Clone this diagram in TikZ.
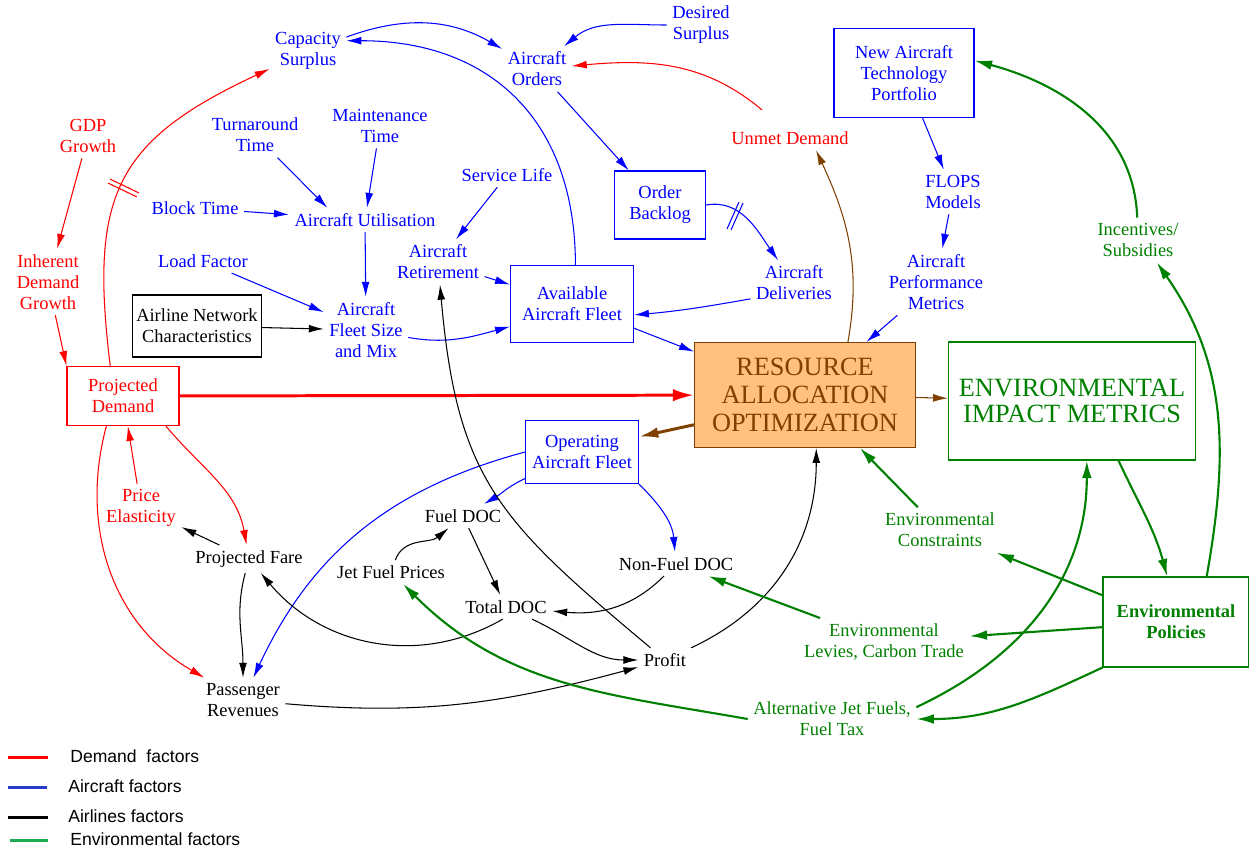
\documentclass[tikz,border=0pt]{standalone}
\usepackage{fontspec}
\setmainfont{Liberation Serif}
\newfontfamily\legendfont{Liberation Sans}
\usetikzlibrary{arrows.meta}
\definecolor{envgreen}{RGB}{0,128,0}
\definecolor{resbrown}{RGB}{128,64,0}
\definecolor{resfill}{RGB}{255,192,128}
\definecolor{legblue}{RGB}{40,60,200}
\definecolor{leggreen}{RGB}{30,170,80}

\tikzset{
  lbl/.style={align=center, inner sep=3pt, font=\fontsize{10.5}{12}\selectfont},
  dtxt/.style={lbl, text=red},
  atxt/.style={lbl, text=blue},
  ltxt/.style={lbl, text=black},
  etxt/.style={lbl, text=envgreen},
  dbox/.style={lbl, draw=red, text=red, line width=0.6pt, inner sep=2pt},
  abox/.style={lbl, draw=blue, text=blue, line width=0.6pt, inner sep=2pt},
  lbox/.style={lbl, draw=black, text=black, line width=0.6pt, inner sep=2pt},
  ebox/.style={lbl, draw=envgreen, text=envgreen, line width=0.6pt, inner sep=2pt},
  flow/.style={line width=0.6pt, -{Latex[length=8.5pt,width=4.5pt]}},
  dlink/.style={flow, red},
  alink/.style={flow, blue},
  llink/.style={flow, black},
  rlink/.style={flow, resbrown},
  elink/.style={envgreen, line width=1.2pt, -{Latex[length=10pt,width=5.5pt]}}
}

\begin{document}
\begin{tikzpicture}[x=0.02cm, y=0.02cm]
\useasboundingbox (0,0) rectangle (1249,-850);

% Demand factors
\node[dtxt] (gdp) at (88,-136) {GDP\\Growth};
\node[dtxt] (idg) at (48,-282) {Inherent\\Demand\\Growth};
\node[dbox, minimum width=2.24cm, minimum height=1.18cm] (pd) at (123,-396) {Projected\\Demand};
\node[dtxt] (pe) at (141,-508) {Price\\Elasticity};
\node[dtxt] (ud) at (790,-138) {Unmet Demand};

% Aircraft factors
\node[atxt] (cs) at (308,-51) {Capacity\\Surplus};
\node[atxt] (ao) at (537,-69) {Aircraft\\Orders};
\node[atxt] (ds) at (701,-25) {Desired\\Surplus};
\node[atxt] (tt) at (255,-135) {Turnaround\\Time};
\node[atxt] (mt) at (380,-126) {Maintenance\\Time};
\node[atxt] (sl) at (507,-175) {Service Life};
\node[atxt] (bt) at (195,-208) {Block Time};
\node[atxt] (au) at (365,-220) {Aircraft Utilisation};
\node[atxt] (ar) at (438,-262) {Aircraft\\Retirement};
\node[atxt] (lf) at (203,-261) {Load Factor};
\node[atxt] (fsm) at (366,-330) {Aircraft\\Fleet Size\\and Mix};
\node[abox, minimum width=1.82cm, minimum height=1.36cm] (ob) at (660,-205) {Order\\Backlog};
\node[atxt] (ad) at (794,-283) {Aircraft\\Deliveries};
\node[abox, minimum width=2.46cm, minimum height=1.54cm] (aaf) at (572,-304) {Available\\Aircraft Fleet};
\node[abox, minimum width=2.8cm, minimum height=1.78cm] (natp) at (904,-73) {New Aircraft\\Technology\\Portfolio};
\node[atxt] (flops) at (953,-192) {FLOPS\\Models};
\node[atxt] (apm) at (936,-282) {Aircraft\\Performance\\Metrics};
\node[abox, minimum width=2.26cm, minimum height=1.26cm] (oaf) at (582,-452) {Operating\\Aircraft Fleet};

% Airlines factors
\node[lbox, minimum width=2.54cm, minimum height=1.24cm] (anc) at (197,-326) {Airline Network\\Characteristics};
\node[ltxt] (pf) at (249,-559) {Projected Fare};
\node[ltxt] (fdoc) at (463,-516) {Fuel DOC};
\node[ltxt] (jfp) at (391,-572) {Jet Fuel Prices};
\node[ltxt] (tdoc) at (506,-607) {Total DOC};
\node[ltxt] (nfdoc) at (676,-564) {Non-Fuel DOC};
\node[ltxt] (profit) at (665,-660) {Profit};
\node[ltxt] (pr) at (243,-700) {Passenger\\Revenues};

% Optimization and environmental factors
\node[lbl, draw=resbrown, fill=resfill, text=resbrown, line width=0.6pt,
      minimum width=4.42cm, minimum height=2.1cm,
      font=\fontsize{15}{16}\selectfont] (rao) at (805,-395) {RESOURCE\\ALLOCATION\\OPTIMIZATION};
\node[ebox, minimum width=4.94cm, minimum height=2.36cm,
      font=\fontsize{15}{15}\selectfont] (eim) at (1072,-401) {ENVIRONMENTAL\\IMPACT METRICS};
\node[etxt] (ec) at (940,-530) {Environmental\\Constraints};
\node[ebox, minimum width=2.92cm, minimum height=1.8cm,
      font=\fontsize{10.5}{12}\selectfont\bfseries] (ep) at (1176,-622) {Environmental\\Policies};
\node[etxt] (el) at (884,-642) {Environmental\\Levies, Carbon Trade};
\node[etxt] (ajf) at (832,-719) {Alternative Jet Fuels,\\Fuel Tax};
\node[etxt] (is) at (1138,-240) {Incentives/\\Subsidies};

% Demand links
\draw[dlink] (gdp) -- (idg);
\draw[dlink] (idg) -- (pd.north west);
\draw[dlink] (pd.113) to[out=97, in=205, looseness=1.3] (cs);
\draw[red, line width=0.6pt] (108,-183) -- (137,-197);
\draw[red, line width=0.6pt] (110,-179) -- (139,-193);
\draw[red, line width=1.7pt, -{Latex[length=12pt,width=7pt]}] (pd) -- (rao);
\draw[dlink] (pe) -- (pd);
\draw[dlink] (pd.-35) to[out=-50, in=100] (pf);
\draw[dlink] (pd.-119) to[out=-105, in=150] (pr);
\draw[dlink] ([shift={(-28,16)}]ud.north) to[out=140, in=5] (ao);

% Aircraft links
\draw[alink] (cs) to[out=20, in=150] (ao);
\draw[alink] (aaf.85) to[out=90, in=0, looseness=1.15] (cs.15);
\draw[alink] (ds) to[out=180, in=40] (ao);
\draw[alink] (ao) -- (ob);
\draw[alink] (ob.east) to[out=10, in=125] (ad);
\draw[blue, line width=0.6pt] (727,-229) -- (739,-202);
\draw[blue, line width=0.6pt] (731,-230) -- (743,-203);
\draw[alink] (ad.200) to[out=190, in=5] (aaf.-10);
\draw[alink] (tt) -- (au.162);
\draw[alink] (mt) -- (au);
\draw[alink] (bt) -- (au);
\draw[alink] (au) -- (fsm);
\draw[alink] (lf) -- (fsm);
\draw[alink] (sl) -- (ar);
\draw[alink] (ar) -- (aaf);
\draw[alink] (fsm.-10) to[out=-10, in=195] (aaf.200);
\draw[alink] (aaf) -- (rao);
\draw[alink] (natp) -- (flops);
\draw[alink] (flops) -- (apm);
\draw[alink] (apm) -- (rao);
\draw[alink] (oaf) to[out=205, in=30] (fdoc);
\draw[alink] (oaf.south east) to[out=-45, in=95] (nfdoc);
\draw[alink] (oaf.west) to[out=195, in=65] (pr);

% Airlines links
\draw[llink] (anc) -- (fsm);
\draw[llink] (pf) -- (pe);
\draw[llink] (pf) to[out=-105, in=90] (pr);
\draw[llink] (jfp) to[out=70, in=220] (fdoc);
\draw[llink] (fdoc) -- (tdoc);
\draw[llink] (nfdoc) to[out=-135, in=-5] (tdoc);
\draw[llink] (tdoc.-105) to[out=-150, in=-50] (pf);
\draw[llink] (tdoc) to[out=-25, in=180] (profit);
\draw[llink] (pr) to[out=-5, in=195] (profit);
\draw[llink] (profit) to[out=140, in=-85, looseness=1.2] (ar);
\draw[llink] (profit) to[out=25, in=-90] (rao.-78);

% Optimization outputs
\draw[rlink] (rao.51) to[out=80, in=-65] (ud.-25);
\draw[resbrown, line width=1.7pt, -{Latex[length=11pt,width=6pt]}] (rao.195) -- (oaf.15);
\draw[rlink] (rao) -- (eim);

% Environmental links
\draw[elink] (ec) -- (rao.-44);
\draw[elink] (ep.160) -- (ec);
\draw[elink] (ep.184) -- (el);
\draw[elink] (el) -- (nfdoc);
\draw[elink] (ep.south west) to[out=-155, in=0] (ajf);
\draw[elink] (ajf.west) to[out=170, in=-45] (jfp);
\draw[elink] (ajf.8) to[out=25, in=-90] (eim.-76);
\draw[elink] (eim.-52) to[out=-65, in=105] (ep.101);
\draw[elink] (ep.56) to[out=80, in=-55] (is.-50);
\draw[elink] (is) to[out=92, in=-15] (natp.10);

% Legend
\node[anchor=west, font=\legendfont\fontsize{10}{12}\selectfont, inner sep=0pt] (legd) at (70,-756) {Demand\ \ factors};
\node[anchor=west, font=\legendfont\fontsize{10}{12}\selectfont, inner sep=0pt] (lega) at (68,-786) {Aircraft factors};
\node[anchor=west, font=\legendfont\fontsize{10}{12}\selectfont, inner sep=0pt] (legl) at (68,-816) {Airlines factors};
\node[anchor=west, font=\legendfont\fontsize{10}{12}\selectfont, inner sep=0pt] (lege) at (70,-839) {Environmental factors};
\draw[red, line width=1.7pt] (8,-757) -- (48,-757);
\draw[legblue, line width=1.7pt] (8,-787) -- (47,-787);
\draw[black, line width=1.7pt] (8,-817) -- (48,-817);
\draw[leggreen, line width=1.7pt] (10,-840) -- (48,-840);
\end{tikzpicture}
\end{document}
